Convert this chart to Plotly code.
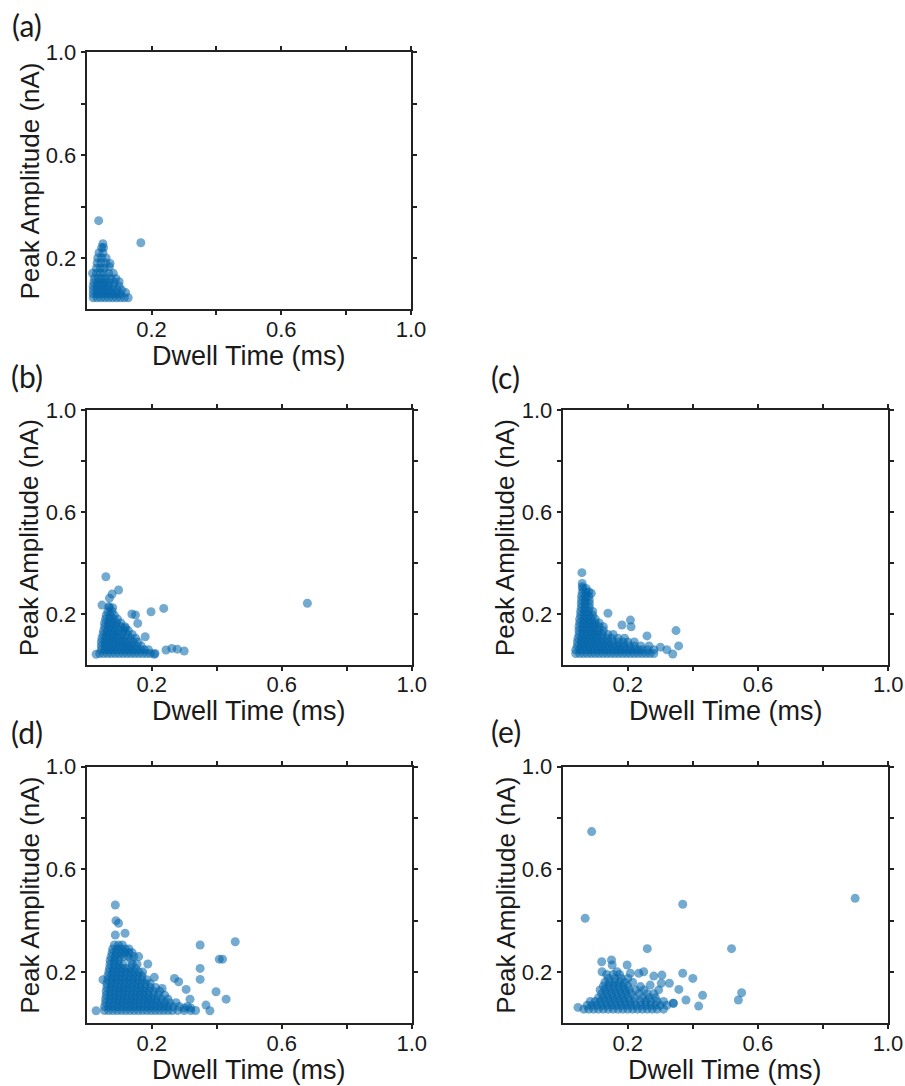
import plotly.graph_objects as go

# ---------------- data (Dwell Time ms, Peak Amplitude nA) ----------------
tick_vals = [0.2, 0.4, 0.6, 0.8, 1.0]
tick_text = ["0.2", "", "0.6", "", "1.0"]
panel_labels = ["(a)", "(b)", "(c)", "(d)", "(e)"]
x_title = "Dwell Time (ms)"
y_title = "Peak Amplitude (nA)"

points_a = [
    (0.037, 0.345), (0.167, 0.259),
    (0.02, 0.045), (0.032, 0.045), (0.044, 0.045), (0.056, 0.045), (0.068, 0.045), (0.08, 0.045), (0.092, 0.045), (0.104, 0.045), (0.116, 0.045), (0.128, 0.045),
    (0.02, 0.06), (0.032, 0.06), (0.044, 0.06), (0.056, 0.06), (0.068, 0.06), (0.08, 0.06), (0.092, 0.06), (0.104, 0.06), (0.12, 0.065),
    (0.02, 0.075), (0.032, 0.075), (0.044, 0.075), (0.056, 0.075), (0.068, 0.075), (0.08, 0.075), (0.094, 0.075), (0.108, 0.075),
    (0.02, 0.09), (0.032, 0.09), (0.044, 0.09), (0.056, 0.09), (0.068, 0.09), (0.082, 0.09), (0.1, 0.09),
    (0.022, 0.105), (0.034, 0.105), (0.046, 0.105), (0.058, 0.105), (0.07, 0.105), (0.085, 0.105), (0.1, 0.107),
    (0.024, 0.12), (0.036, 0.12), (0.048, 0.12), (0.06, 0.12), (0.075, 0.12), (0.09, 0.12),
    (0.018, 0.14), (0.03, 0.14), (0.042, 0.14), (0.054, 0.14), (0.068, 0.14), (0.082, 0.14),
    (0.03, 0.16), (0.042, 0.16), (0.054, 0.16), (0.07, 0.166),
    (0.032, 0.18), (0.044, 0.18), (0.058, 0.18), (0.072, 0.178),
    (0.034, 0.2), (0.046, 0.2), (0.06, 0.2),
    (0.038, 0.22), (0.05, 0.22),
    (0.046, 0.24), (0.052, 0.24), (0.05, 0.255),
]

points_b = [
    (0.059, 0.346), (0.098, 0.294), (0.078, 0.278), (0.07, 0.262), (0.047, 0.235), (0.068, 0.229),
    (0.139, 0.2), (0.15, 0.196), (0.198, 0.209), (0.237, 0.222), (0.157, 0.163), (0.119, 0.144),
    (0.18, 0.111), (0.029, 0.042), (0.244, 0.059), (0.262, 0.065), (0.279, 0.062), (0.3, 0.055),
    (0.208, 0.042), (0.679, 0.242),
    (0.04, 0.045), (0.052, 0.045), (0.064, 0.045), (0.076, 0.045), (0.088, 0.045), (0.1, 0.045), (0.112, 0.045), (0.124, 0.045), (0.136, 0.045), (0.148, 0.045), (0.16, 0.045), (0.172, 0.045), (0.184, 0.045), (0.196, 0.045), (0.21, 0.045),
    (0.045, 0.06), (0.057, 0.06), (0.069, 0.06), (0.081, 0.06), (0.093, 0.06), (0.105, 0.06), (0.117, 0.06), (0.129, 0.06), (0.141, 0.06), (0.153, 0.06), (0.165, 0.06), (0.177, 0.06), (0.19, 0.06),
    (0.045, 0.075), (0.057, 0.075), (0.069, 0.075), (0.081, 0.075), (0.093, 0.075), (0.105, 0.075), (0.117, 0.075), (0.129, 0.075), (0.141, 0.075), (0.153, 0.075), (0.168, 0.075),
    (0.045, 0.09), (0.057, 0.09), (0.069, 0.09), (0.081, 0.09), (0.093, 0.09), (0.105, 0.09), (0.117, 0.09), (0.129, 0.09), (0.143, 0.09), (0.158, 0.09),
    (0.047, 0.105), (0.059, 0.105), (0.071, 0.105), (0.083, 0.105), (0.095, 0.105), (0.107, 0.105), (0.12, 0.105), (0.135, 0.105), (0.15, 0.105),
    (0.05, 0.12), (0.062, 0.12), (0.074, 0.12), (0.086, 0.12), (0.098, 0.12), (0.11, 0.12), (0.125, 0.12), (0.14, 0.12),
    (0.052, 0.135), (0.064, 0.135), (0.076, 0.135), (0.088, 0.135), (0.1, 0.135), (0.115, 0.135), (0.128, 0.135),
    (0.055, 0.15), (0.067, 0.15), (0.079, 0.15), (0.091, 0.15), (0.105, 0.15), (0.118, 0.15),
    (0.055, 0.165), (0.067, 0.165), (0.079, 0.165), (0.092, 0.165), (0.105, 0.165),
    (0.058, 0.18), (0.07, 0.18), (0.082, 0.18), (0.095, 0.18),
    (0.06, 0.195), (0.072, 0.195), (0.085, 0.195),
    (0.065, 0.21), (0.078, 0.21),
    (0.07, 0.225), (0.08, 0.225),
]

points_c = [
    (0.059, 0.362), (0.06, 0.32), (0.06, 0.307), (0.08, 0.287), (0.088, 0.281), (0.139, 0.203),
    (0.208, 0.176), (0.21, 0.15), (0.182, 0.157), (0.259, 0.114), (0.348, 0.135), (0.356, 0.075),
    (0.338, 0.043), (0.3, 0.07), (0.32, 0.06),
    (0.04, 0.045), (0.052, 0.045), (0.064, 0.045), (0.076, 0.045), (0.088, 0.045), (0.1, 0.045), (0.112, 0.045), (0.124, 0.045), (0.136, 0.045), (0.148, 0.045), (0.16, 0.045), (0.172, 0.045), (0.184, 0.045), (0.196, 0.045), (0.208, 0.045), (0.22, 0.045), (0.232, 0.045), (0.244, 0.045), (0.256, 0.045), (0.268, 0.045), (0.28, 0.045),
    (0.04, 0.06), (0.052, 0.06), (0.064, 0.06), (0.076, 0.06), (0.088, 0.06), (0.1, 0.06), (0.112, 0.06), (0.124, 0.06), (0.136, 0.06), (0.148, 0.06), (0.16, 0.06), (0.172, 0.06), (0.184, 0.06), (0.196, 0.06), (0.208, 0.06), (0.22, 0.06), (0.232, 0.06), (0.244, 0.06), (0.26, 0.06), (0.28, 0.06),
    (0.045, 0.075), (0.057, 0.075), (0.069, 0.075), (0.081, 0.075), (0.093, 0.075), (0.105, 0.075), (0.117, 0.075), (0.129, 0.075), (0.141, 0.075), (0.153, 0.075), (0.165, 0.075), (0.177, 0.075), (0.19, 0.075), (0.205, 0.075), (0.22, 0.075), (0.24, 0.075), (0.265, 0.075),
    (0.045, 0.09), (0.057, 0.09), (0.069, 0.09), (0.081, 0.09), (0.093, 0.09), (0.105, 0.09), (0.117, 0.09), (0.129, 0.09), (0.141, 0.09), (0.155, 0.09), (0.17, 0.09), (0.185, 0.09), (0.2, 0.09), (0.22, 0.09),
    (0.047, 0.105), (0.059, 0.105), (0.071, 0.105), (0.083, 0.105), (0.095, 0.105), (0.107, 0.105), (0.12, 0.105), (0.135, 0.105), (0.15, 0.105), (0.17, 0.105), (0.19, 0.105),
    (0.05, 0.12), (0.062, 0.12), (0.074, 0.12), (0.086, 0.12), (0.098, 0.12), (0.11, 0.12), (0.122, 0.12), (0.138, 0.12), (0.155, 0.12),
    (0.05, 0.135), (0.062, 0.135), (0.074, 0.135), (0.086, 0.135), (0.098, 0.135), (0.11, 0.135), (0.125, 0.135),
    (0.05, 0.15), (0.062, 0.15), (0.074, 0.15), (0.086, 0.15), (0.098, 0.15), (0.112, 0.15), (0.125, 0.15),
    (0.052, 0.165), (0.064, 0.165), (0.076, 0.165), (0.088, 0.165), (0.1, 0.165), (0.112, 0.165),
    (0.052, 0.18), (0.064, 0.18), (0.076, 0.18), (0.088, 0.18), (0.1, 0.18),
    (0.055, 0.195), (0.067, 0.195), (0.079, 0.195), (0.092, 0.195),
    (0.055, 0.21), (0.067, 0.21), (0.079, 0.21), (0.092, 0.21),
    (0.057, 0.225), (0.069, 0.225), (0.082, 0.225),
    (0.057, 0.24), (0.069, 0.24), (0.082, 0.24),
    (0.058, 0.255), (0.07, 0.255), (0.082, 0.255),
    (0.058, 0.27), (0.07, 0.27), (0.08, 0.27),
    (0.06, 0.285), (0.072, 0.285),
    (0.062, 0.3), (0.072, 0.3),
]

points_d = [
    (0.088, 0.461), (0.09, 0.40), (0.098, 0.39), (0.088, 0.344), (0.118, 0.351), (0.349, 0.305),
    (0.457, 0.318), (0.408, 0.25), (0.418, 0.25), (0.349, 0.214), (0.349, 0.171), (0.27, 0.175),
    (0.283, 0.162), (0.306, 0.132), (0.398, 0.123), (0.429, 0.094), (0.367, 0.071), (0.379, 0.049),
    (0.029, 0.049), (0.188, 0.231), (0.208, 0.179), (0.232, 0.136), (0.318, 0.094), (0.32, 0.06),
    (0.30, 0.06),
    (0.055, 0.05), (0.068, 0.05), (0.081, 0.05), (0.094, 0.05), (0.107, 0.05), (0.12, 0.05), (0.133, 0.05), (0.146, 0.05), (0.159, 0.05), (0.172, 0.05), (0.185, 0.05), (0.198, 0.05), (0.211, 0.05), (0.224, 0.05), (0.237, 0.05), (0.25, 0.05), (0.263, 0.05), (0.28, 0.05), (0.3, 0.05), (0.32, 0.05), (0.335, 0.05),
    (0.055, 0.065), (0.068, 0.065), (0.081, 0.065), (0.094, 0.065), (0.107, 0.065), (0.12, 0.065), (0.133, 0.065), (0.146, 0.065), (0.159, 0.065), (0.172, 0.065), (0.185, 0.065), (0.198, 0.065), (0.211, 0.065), (0.224, 0.065), (0.237, 0.065), (0.25, 0.065), (0.265, 0.065), (0.285, 0.065), (0.31, 0.065),
    (0.058, 0.08), (0.071, 0.08), (0.084, 0.08), (0.097, 0.08), (0.11, 0.08), (0.123, 0.08), (0.136, 0.08), (0.149, 0.08), (0.162, 0.08), (0.175, 0.08), (0.188, 0.08), (0.201, 0.08), (0.214, 0.08), (0.227, 0.08), (0.24, 0.08), (0.255, 0.08), (0.275, 0.08),
    (0.058, 0.095), (0.071, 0.095), (0.084, 0.095), (0.097, 0.095), (0.11, 0.095), (0.123, 0.095), (0.136, 0.095), (0.149, 0.095), (0.162, 0.095), (0.175, 0.095), (0.188, 0.095), (0.201, 0.095), (0.214, 0.095), (0.23, 0.095), (0.25, 0.095),
    (0.06, 0.11), (0.073, 0.11), (0.086, 0.11), (0.099, 0.11), (0.112, 0.11), (0.125, 0.11), (0.138, 0.11), (0.151, 0.11), (0.164, 0.11), (0.177, 0.11), (0.19, 0.11), (0.205, 0.11), (0.22, 0.11), (0.24, 0.11),
    (0.06, 0.125), (0.073, 0.125), (0.086, 0.125), (0.099, 0.125), (0.112, 0.125), (0.125, 0.125), (0.138, 0.125), (0.151, 0.125), (0.164, 0.125), (0.177, 0.125), (0.19, 0.125), (0.205, 0.125), (0.225, 0.125),
    (0.062, 0.14), (0.075, 0.14), (0.088, 0.14), (0.101, 0.14), (0.114, 0.14), (0.127, 0.14), (0.14, 0.14), (0.153, 0.14), (0.166, 0.14), (0.18, 0.14), (0.195, 0.14), (0.212, 0.14),
    (0.062, 0.155), (0.075, 0.155), (0.088, 0.155), (0.101, 0.155), (0.114, 0.155), (0.127, 0.155), (0.14, 0.155), (0.153, 0.155), (0.166, 0.155), (0.18, 0.155), (0.195, 0.155),
    (0.05, 0.17), (0.065, 0.17), (0.078, 0.17), (0.091, 0.17), (0.104, 0.17), (0.117, 0.17), (0.13, 0.17), (0.143, 0.17), (0.156, 0.17), (0.17, 0.17), (0.185, 0.17),
    (0.065, 0.185), (0.078, 0.185), (0.091, 0.185), (0.104, 0.185), (0.117, 0.185), (0.13, 0.185), (0.143, 0.185), (0.156, 0.185), (0.17, 0.185),
    (0.068, 0.2), (0.081, 0.2), (0.094, 0.2), (0.107, 0.2), (0.12, 0.2), (0.133, 0.2), (0.146, 0.2), (0.16, 0.2), (0.172, 0.2),
    (0.07, 0.215), (0.083, 0.215), (0.096, 0.215), (0.109, 0.215), (0.122, 0.215), (0.135, 0.215), (0.15, 0.215),
    (0.072, 0.23), (0.085, 0.23), (0.098, 0.23), (0.111, 0.23), (0.14, 0.23), (0.155, 0.23),
    (0.072, 0.245), (0.085, 0.245), (0.098, 0.245), (0.137, 0.245),
    (0.075, 0.26), (0.088, 0.26), (0.101, 0.26), (0.114, 0.26), (0.127, 0.26), (0.145, 0.26), (0.16, 0.26),
    (0.078, 0.275), (0.091, 0.275), (0.104, 0.275), (0.117, 0.275), (0.13, 0.275), (0.14, 0.275),
    (0.08, 0.29), (0.093, 0.29), (0.106, 0.29), (0.119, 0.29), (0.13, 0.29),
    (0.085, 0.305), (0.098, 0.305), (0.11, 0.305),
]

points_e = [
    (0.089, 0.747), (0.069, 0.409), (0.369, 0.464), (0.899, 0.487), (0.26, 0.291), (0.519, 0.291),
    (0.55, 0.119), (0.54, 0.091), (0.369, 0.195), (0.4, 0.175), (0.43, 0.109), (0.379, 0.091),
    (0.418, 0.067), (0.34, 0.078), (0.34, 0.078), (0.047, 0.062),
    (0.12, 0.24), (0.15, 0.247), (0.152, 0.227), (0.198, 0.227), (0.121, 0.201), (0.167, 0.201),
    (0.208, 0.195), (0.234, 0.195), (0.249, 0.201), (0.28, 0.184), (0.305, 0.188), (0.328, 0.156),
    (0.303, 0.156), (0.295, 0.13), (0.357, 0.132), (0.269, 0.149), (0.239, 0.143),
    (0.065, 0.055), (0.08, 0.055), (0.095, 0.055), (0.11, 0.055), (0.125, 0.055), (0.14, 0.055), (0.155, 0.055), (0.17, 0.055), (0.185, 0.055), (0.2, 0.055), (0.215, 0.055), (0.23, 0.055), (0.245, 0.055), (0.26, 0.055), (0.275, 0.055), (0.29, 0.055), (0.31, 0.055),
    (0.075, 0.07), (0.09, 0.07), (0.105, 0.07), (0.12, 0.07), (0.135, 0.07), (0.15, 0.07), (0.165, 0.07), (0.18, 0.07), (0.195, 0.07), (0.21, 0.07), (0.225, 0.07), (0.24, 0.07), (0.255, 0.07), (0.27, 0.07), (0.285, 0.07), (0.3, 0.07), (0.32, 0.07),
    (0.085, 0.085), (0.1, 0.085), (0.115, 0.085), (0.13, 0.085), (0.145, 0.085), (0.16, 0.085), (0.175, 0.085), (0.19, 0.085), (0.205, 0.085), (0.22, 0.085), (0.24, 0.085), (0.255, 0.085), (0.27, 0.085), (0.29, 0.085), (0.31, 0.085),
    (0.11, 0.1), (0.125, 0.1), (0.14, 0.1), (0.155, 0.1), (0.17, 0.1), (0.185, 0.1), (0.2, 0.1), (0.22, 0.1), (0.245, 0.1), (0.265, 0.1), (0.285, 0.1),
    (0.12, 0.115), (0.135, 0.115), (0.15, 0.115), (0.165, 0.115), (0.18, 0.115), (0.195, 0.115), (0.21, 0.115), (0.235, 0.115), (0.26, 0.115), (0.28, 0.115),
    (0.115, 0.13), (0.13, 0.13), (0.145, 0.13), (0.16, 0.13), (0.175, 0.13), (0.19, 0.13), (0.205, 0.13), (0.225, 0.13), (0.25, 0.13),
    (0.125, 0.145), (0.14, 0.145), (0.155, 0.145), (0.17, 0.145), (0.185, 0.145), (0.2, 0.145),
    (0.13, 0.16), (0.145, 0.16), (0.16, 0.16), (0.175, 0.16), (0.19, 0.16), (0.215, 0.16),
    (0.14, 0.175), (0.16, 0.175), (0.18, 0.175), (0.2, 0.175),
    (0.135, 0.19), (0.155, 0.19), (0.175, 0.19),
]

# ---------------- layout geometry (pixels) ----------------
W, H = 905, 1086
# (left, right, top, bottom) of each plot area in pixels
boxes = [
    (86.7, 411.0, 52.3, 309.3),
    (86.7, 411.7, 410.0, 665.0),
    (562.7, 888.3, 410.0, 665.0),
    (86.7, 411.7, 766.7, 1023.3),
    (562.7, 888.0, 766.7, 1023.3),
]
label_pos = [(27, 25), (27, 376), (505, 377), (27, 732), (506, 731)]
xtitle_off = [47, 46, 46, 47, 47]

BLUE = "rgb(0,100,170)"
FONT = "Liberation Sans, Arial, sans-serif"
LABEL_FONT = "Lato, Open Sans, sans-serif"

fig = go.Figure()
all_points = [points_a, points_b, points_c, points_d, points_e]
annotations = []
for i, (pts, box) in enumerate(zip(all_points, boxes)):
    n = "" if i == 0 else str(i + 1)
    fig.add_trace(go.Scatter(
        x=[p[0] for p in pts], y=[p[1] for p in pts],
        mode="markers", xaxis="x" + n, yaxis="y" + n,
        marker=dict(color=BLUE, opacity=0.55, size=9, line=dict(width=0)),
        showlegend=False, hoverinfo="skip",
    ))
    l, r, t, b = box
    axis_common = dict(
        range=[0, 1.0], tickvals=tick_vals, ticktext=tick_text,
        ticks="outside", ticklen=4, tickwidth=1.5, tickcolor="#222",
        showline=True, linecolor="#222", linewidth=2, mirror="ticks",
        showgrid=False, zeroline=False, automargin=False,
        tickfont=dict(family=FONT, size=22, color="#1a1a1a"),
    )
    fig.layout["xaxis" + n] = dict(axis_common, domain=[l / W, r / W], anchor="y" + n,
                                   ticklabelstandoff=-5)
    fig.layout["yaxis" + n] = dict(axis_common, domain=[1 - b / H, 1 - t / H], anchor="x" + n)
    annotations.append(dict(
        text=x_title, x=(l + r) / 2 / W, y=1 - (b + xtitle_off[i]) / H,
        xref="paper", yref="paper", showarrow=False, xanchor="center", yanchor="middle",
        font=dict(family=FONT, size=27, color="#1a1a1a"),
    ))
    annotations.append(dict(
        text=y_title, x=(l - 57) / W, y=1 - (t + b) / 2 / H,
        xref="paper", yref="paper", showarrow=False, xanchor="center", yanchor="middle",
        textangle=-90, font=dict(family=FONT, size=26, color="#1a1a1a"),
    ))
    lx, ly = label_pos[i]
    annotations.append(dict(
        text=panel_labels[i], x=lx / W, y=1 - ly / H,
        xref="paper", yref="paper", showarrow=False, xanchor="center", yanchor="middle",
        font=dict(family=LABEL_FONT, size=30, color="#1a1a1a"),
    ))

fig.update_layout(
    template="none",
    width=W, height=H, margin=dict(l=0, r=0, t=0, b=0, autoexpand=False),
    paper_bgcolor="white", plot_bgcolor="white",
    annotations=annotations,
)
fig.write_html("out.html")
